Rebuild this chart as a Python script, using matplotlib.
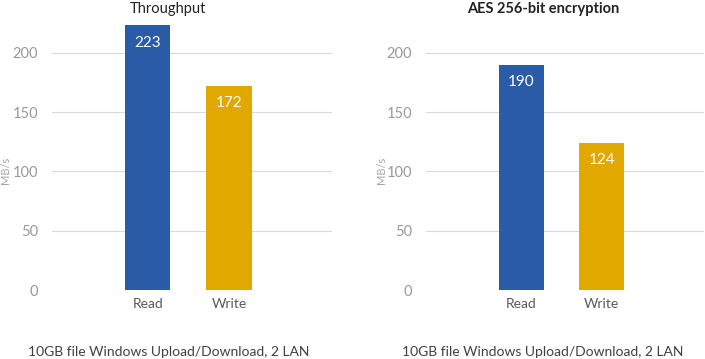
import matplotlib.pyplot as plt

categories = ["Read", "Write"]
throughput = [223, 172]
aes = [190, 124]
titles = ["Throughput", "AES 256-bit encryption"]
title_weights = ["normal", "bold"]
footer = "10GB file Windows Upload/Download, 2 LAN"
yticks = [0, 50, 100, 150, 200]

blue = "#2A5BA7"
gold = "#E1A800"
grey = "#999999"

plt.rcParams['font.family'] = ['Lato', 'DejaVu Sans']

fig = plt.figure(figsize=(7.05, 3.59), dpi=100)

W, H = 705, 359
panels = [
    # axes left/right px, title x, ylabel x, footer x
    dict(x0=52, x1=332, tx=168, lx=6, fx=169, data=throughput),
    dict(x0=426, x1=704, tx=543, lx=382, fx=543, data=aes),
]
y_zero = 290
px_per = 237.3 / 200
ymax = 230

for i, p in enumerate(panels):
    top = y_zero - ymax * px_per
    ax = fig.add_axes([p["x0"] / W, 1 - y_zero / H,
                       (p["x1"] - p["x0"]) / W, (y_zero - top) / H])
    ax.bar(range(len(categories)), p["data"], width=0.56,
           color=[blue, gold])
    for j, v in enumerate(p["data"]):
        ax.annotate(str(v), (j, v), xytext=(0, -12.5), textcoords="offset points",
                    ha="center", va="center", color="white", fontsize=11)
    ax.set_ylim(0, ymax)
    ax.set_xlim(-1.18, 2.27)
    ax.set_yticks(yticks)
    ax.set_xticks(range(len(categories)))
    ax.set_xticklabels(categories, fontsize=10, color="#595959")
    ax.tick_params(axis="y", labelsize=10.5, labelcolor=grey, length=0, pad=10)
    ax.tick_params(axis="x", length=0, pad=6)
    ax.grid(axis="y", color="#D9D9D9", linewidth=0.8)
    ax.set_axisbelow(True)
    for s in ax.spines.values():
        s.set_visible(False)
    fig.text(p["tx"] / W, 1 - 9 / H, titles[i], ha="center", va="center",
             fontsize=10.5, fontweight=title_weights[i], color="#222222")
    fig.text(p["lx"] / W, 1 - 170 / H, "MB/s", rotation=90, ha="center",
             va="center", fontsize=8, color="#A6A6A6")
    fig.text(p["fx"] / W, 1 - 352 / H, footer, ha="center", va="center",
             fontsize=10, color="#404040")

fig.savefig("out.png", dpi=100)
